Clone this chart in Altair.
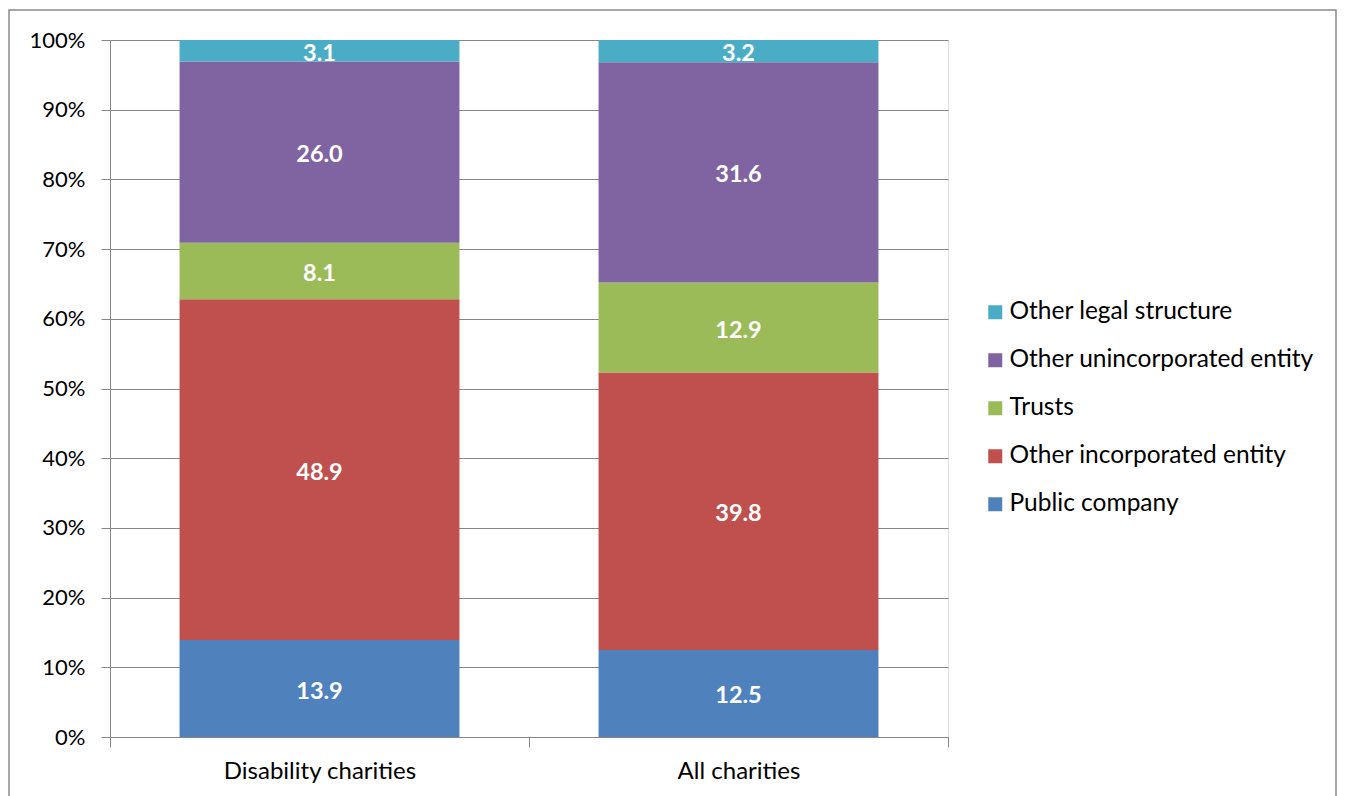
import altair as alt
import pandas as pd

categories = ["Disability charities", "All charities"]
types = ["Public company", "Other incorporated entity", "Trusts",
         "Other unincorporated entity", "Other legal structure"]
disability = [13.9, 48.9, 8.1, 26.0, 3.1]
all_charities = [12.5, 39.8, 12.9, 31.6, 3.2]
colors = ["#4F81BD", "#C0504D", "#9BBB59", "#8064A2", "#4BACC6"]
y_ticks = list(range(0, 101, 10))

rows = []
for cat, vals in zip(categories, [disability, all_charities]):
    cum = 0.0
    for i, (t, v) in enumerate(zip(types, vals)):
        rows.append(dict(cat=cat, type=t, value=v, order=i, y0=cum, y1=cum + v,
                         mid=cum + v / 2, label=f"{v:.1f}"))
        cum += v
df = pd.DataFrame(rows)

FONT = "Lato"
GREY = "#868686"
W, H = 838, 697

legend_domain = list(reversed(types))
legend_range = list(reversed(colors))

x_scale = alt.Scale(paddingInner=0, paddingOuter=0)

x_enc = alt.X("cat:N", sort=categories, scale=x_scale,
              axis=alt.Axis(title=None, labelAngle=0, tickBand="extent",
                            labelFont=FONT, labelFontSize=24, labelColor="#000000",
                            labelPadding=12, tickSize=10, tickColor=GREY,
                            labelLimit=400, domainColor=GREY, grid=False))

bars = alt.Chart(df).mark_bar(width={"band": 0.668}).encode(
    x=x_enc,
    y=alt.Y("y0:Q", scale=alt.Scale(domain=[0, 100], nice=False),
            axis=alt.Axis(title=None, values=y_ticks, labelExpr="datum.value + '%'",
                          labelFont=FONT, labelFontSize=22, labelColor="#000000",
                          labelPadding=16, tickSize=9, tickColor=GREY,
                          domainColor=GREY, gridColor=GREY, gridWidth=1)),
    y2="y1:Q",
    color=alt.Color("type:N",
                    scale=alt.Scale(domain=legend_domain, range=legend_range),
                    legend=alt.Legend(title=None, orient="none", legendX=873, legendY=260,
                                      symbolType="square", symbolSize=196,
                                      symbolStrokeWidth=0, symbolOpacity=1,
                                      labelFont=FONT, labelFontSize=24.5, labelColor="#000000",
                                      labelOffset=2, rowPadding=23, labelLimit=400)),
)

labels = alt.Chart(df).mark_text(font=FONT, fontSize=23.5, fontWeight="bold",
                                 color="white", baseline="middle", dy=3).encode(
    x=alt.X("cat:N", sort=categories),
    y=alt.Y("mid:Q"),
    text="label:N",
)

border = alt.Chart(pd.DataFrame({"a": [0]})).mark_rect(
    fill=None, stroke="#8a8a8a", strokeWidth=1.5).encode(
    x=alt.value(-101), x2=alt.value(1226), y=alt.value(-30), y2=alt.value(800))

chart = alt.layer(bars, labels, border).properties(
    width=W, height=H,
    padding={"left": 102, "top": 32, "right": 390, "bottom": 59},
    autosize=alt.AutoSizeParams(type="none"),
).configure_view(stroke=None).configure(background="white")

chart.save("out.html", embed_options={"renderer": "svg", "actions": False})
